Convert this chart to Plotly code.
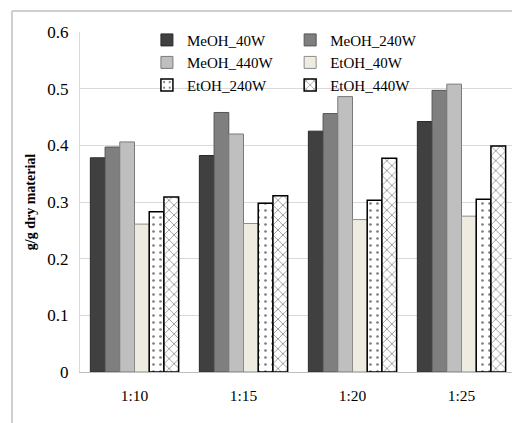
import plotly.graph_objects as go

categories = ["1:10", "1:15", "1:20", "1:25"]
series_names = ["MeOH_40W", "MeOH_240W", "MeOH_440W", "EtOH_40W", "EtOH_240W", "EtOH_440W"]
meoh_40w = [0.378, 0.382, 0.425, 0.442]
meoh_240w = [0.397, 0.458, 0.456, 0.497]
meoh_440w = [0.406, 0.420, 0.486, 0.508]
etoh_40w = [0.261, 0.262, 0.269, 0.275]
etoh_240w = [0.283, 0.298, 0.303, 0.305]
etoh_440w = [0.309, 0.311, 0.377, 0.399]
y_ticks = [0, 0.1, 0.2, 0.3, 0.4, 0.5, 0.6]

values = [meoh_40w, meoh_240w, meoh_440w, etoh_40w, etoh_240w, etoh_440w]
fills = ["#404040", "#7f7f7f", "#bfbfbf", "#eeece1", "#ffffff", "#ffffff"]
lines = ["#2a2a2a", "#555555", "#7a7a7a", "#8c8c8c", "#000000", "#000000"]
line_w = [1, 1, 1, 1, 1.5, 1.5]
patterns = [None, None, None, None,
            dict(shape=".", fgcolor="#000000", bgcolor="#ffffff", size=7, solidity=0.12),
            dict(shape="x", fgcolor="#000000", bgcolor="#ffffff", size=7, solidity=0.2)]
legend_ids = ["legend", "legend2", "legend", "legend2", "legend", "legend2"]

FONT = "Liberation Serif"
fig = go.Figure()
for name, vals, fc, lc, lw, pat, lg in zip(series_names, values, fills, lines, line_w, patterns, legend_ids):
    marker = dict(color=fc, line=dict(color=lc, width=lw))
    if pat:
        marker["pattern"] = pat
    fig.add_trace(go.Bar(x=categories, y=vals, name=name, marker=marker, legend=lg))

leg_common = dict(font=dict(family=FONT, size=15, color="#000000"), bgcolor="rgba(0,0,0,0)",
                  yanchor="top", xanchor="left", itemwidth=30, tracegroupgap=0)
frame_color = "#cfcfcf"
fig.update_layout(
    width=512, height=415,
    margin=dict(l=72, r=4, t=24, b=51),
    paper_bgcolor="white", plot_bgcolor="white",
    barmode="group", bargap=0.19, bargroupgap=0,
    font=dict(family=FONT, color="#000000"),
    legend=dict(x=0.1535, y=1.0245, **leg_common),
    legend2=dict(x=0.482, y=1.0245, **leg_common),
    xaxis=dict(showgrid=False, showline=True, linecolor="#bfbfbf", linewidth=1,
               tickfont=dict(family=FONT, size=15.5), ticks="", ticklabelstandoff=9),
    yaxis=dict(range=[0, 0.6], tickvals=y_ticks, ticktext=[str(v) if v else "0" for v in y_ticks],
               showgrid=True, gridcolor="#d9d9d9", gridwidth=1,
               showline=True, linecolor="#d9d9d9", zeroline=False,
               tickfont=dict(family=FONT, size=17), ticks="", ticklabelstandoff=7,
               title=dict(text="<b>g/g dry material</b>", font=dict(family=FONT, size=14), standoff=8)),
    shapes=[
        dict(type="line", xref="paper", yref="paper", x0=-0.156, x1=1.01, y0=1.062, y1=1.062,
             line=dict(color=frame_color, width=2), layer="above"),
        dict(type="line", xref="paper", yref="paper", x0=-0.156, x1=-0.156, y0=1.062, y1=-0.2,
             line=dict(color=frame_color, width=2), layer="above"),
    ],
)
fig.write_html("out.html")
